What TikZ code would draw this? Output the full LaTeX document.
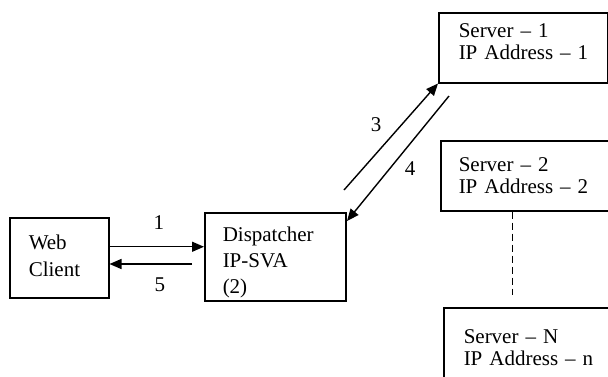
\documentclass[tikz,border=0pt]{standalone}
\usepackage{fontspec}
\setmainfont{Liberation Serif}
\usetikzlibrary{positioning,calc,arrows.meta}

\begin{document}
\begin{tikzpicture}[x=1pt,y=-1pt,font=\fontsize{21}{24}\selectfont,
  box/.style={draw,line width=1.5pt,rectangle,anchor=north west,align=left,inner ysep=0pt},
  arr/.style={line width=1.4pt,-{Triangle[length=12pt,width=10pt]}},
  num/.style={inner sep=0pt}]
  \useasboundingbox (0,0) rectangle (608,376);
  \clip (0,0) rectangle (608,376);
  % ---- client and dispatcher ----
  \node[box,inner xsep=19pt,text width=61pt,minimum height=80pt,font=\fontsize{21}{27}\selectfont] (web) at (9,217) {Web\\Client\rule[-4pt]{0pt}{0pt}};
  \node[box,inner xsep=18pt,text width=105pt,minimum height=88pt,font=\fontsize{21}{26}\selectfont] (disp) at (204,212) {\rule{0pt}{26pt}Dispatcher\\IP-SVA\\(2)};
  % ---- servers ----
  \node[box,inner xsep=20pt,text width=129pt,minimum height=70pt,font=\fontsize{21}{22}\selectfont] (s1) at (438,12) {\mbox{Server – 1}\\\mbox{IP Address – 1}\rule[-12pt]{0pt}{0pt}};
  \node[box,inner xsep=18pt,text width=200pt,minimum height=70pt,font=\fontsize{21}{22}\selectfont] (s2) at (440,140) {\mbox{Server – 2}\\\mbox{IP Address – 2}};
  \node[box,inner xsep=20pt,text width=200pt,minimum height=80pt,font=\fontsize{21}{22}\selectfont] (sn) at (443,307) {\mbox{Server – N}\\\mbox{IP Address – n}};
  % ---- requests and replies ----
  \coordinate (a5) at (192,264);
  \coordinate (a3) at (344,190);
  \coordinate (a4) at (449,96);
  \coordinate (t4) at (347,221);
  \draw[arr] ($(web.east)+(0,-11)$) -- ($(web.east -| disp.west)+(0,-11)$) node[num,midway,xshift=2pt,yshift=24pt] (n1) {1};
  \draw[arr] (a5) -- (a5 -| web.east) node[num,midway,xshift=9pt,yshift=-21pt] (n5) {5};
  \draw[arr] (a3) -- (s1.south west) node[num,midway,xshift=-15pt,yshift=12pt] (n3) {3};
  \draw[arr] (a4) -- (t4) node[num,midway,xshift=12pt,yshift=-10pt] (n4) {4};
  % ---- more servers ----
  \coordinate (dd) at (512,295);
  \draw[line width=1pt,dash pattern=on 7pt off 4pt] (dd |- s2.south) -- (dd);
\end{tikzpicture}
\end{document}
